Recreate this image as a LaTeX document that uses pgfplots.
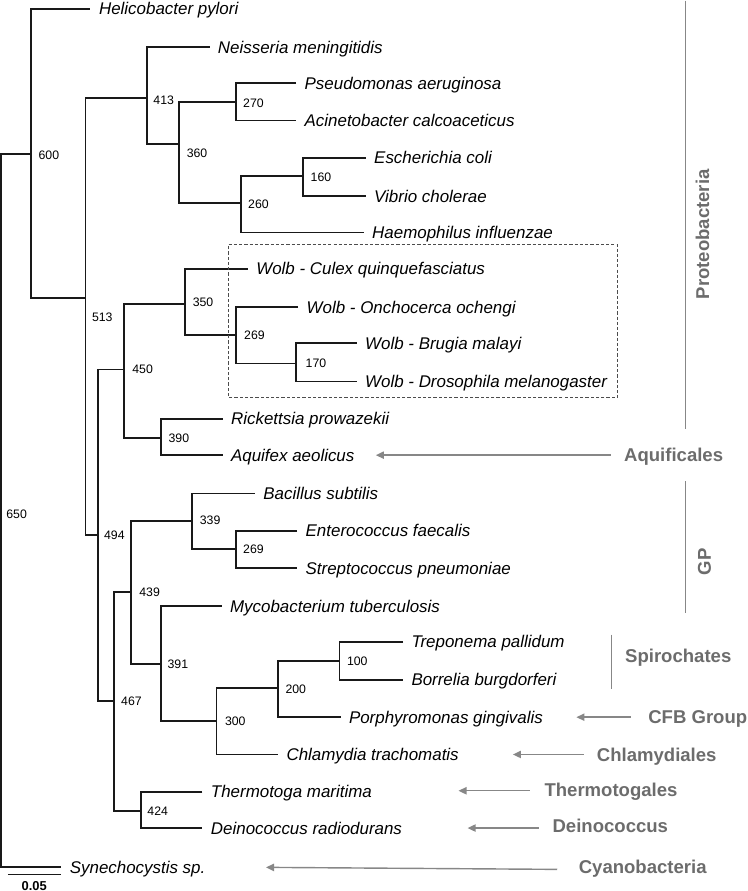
\documentclass[border=0pt]{standalone}
\usepackage{fontspec}
\setmainfont{Liberation Sans}
\usepackage{pgfplots}
\pgfplotsset{compat=1.18}
\usetikzlibrary{arrows.meta}

\definecolor{grp}{RGB}{108,108,108}
\definecolor{grpline}{RGB}{135,135,135}

\tikzset{
  br/.style={black!90, line width=0.9pt, line join=miter},
  sp/.style={anchor=west, inner sep=0pt, font=\fontsize{8.4}{10}\selectfont\itshape, text height=6pt, text depth=0pt},
  bs/.style={anchor=west, inner sep=0pt, font=\fontsize{6.1}{7}\selectfont, text height=4.3pt, text depth=0pt},
  grp/.style={anchor=west, inner sep=0pt, font=\fontsize{9.2}{11}\selectfont\bfseries, text=grp, text height=6.6pt, text depth=0pt},
  gl/.style={grpline, line width=0.6pt},
  arr/.style={grpline, line width=0.7pt, {Triangle[length=4pt,width=3.6pt]}-},
}

\begin{document}
\begin{tikzpicture}
\begin{axis}[
    width=372.5pt, height=445.5pt, scale only axis,
    xmin=0, xmax=745, ymin=0, ymax=891,
    y dir=reverse, hide axis, clip=false
]
% tree, one elbow per internal node: (top child) (node) (node) (bottom child)
\addplot[br] coordinates {(33,155) (3,155) (3,863) (63,863)};       % root 650
\addplot[br] coordinates {(91,11) (33,11) (33,298) (87,298)};       % 600
\addplot[br] coordinates {(148,100) (87,100) (87,533) (99,533)};    % 513
\addplot[br] coordinates {(210,49) (148,49) (148,145) (180,145)};   % 413
\addplot[br] coordinates {(236,104) (180,104) (180,204) (241,204)}; % 360
\addplot[br] coordinates {(296,85) (236,85) (236,122) (296,122)};   % 270
\addplot[br] coordinates {(303,177) (241,177) (241,233) (363,233)}; % 260
\addplot[br] coordinates {(365,159) (303,159) (303,197) (365,197)}; % 160
\addplot[br] coordinates {(125,369) (99,369) (99,698) (115,698)};   % 494
\addplot[br] coordinates {(186,304) (125,304) (125,437) (162,437)}; % 450
\addplot[br] coordinates {(248,269) (186,269) (186,335) (236,335)}; % 350
\addplot[br] coordinates {(298,307) (236,307) (236,363) (296,363)}; % 269
\addplot[br] coordinates {(356,343) (296,343) (296,381) (356,381)}; % 170
\addplot[br] coordinates {(223,418) (162,418) (162,454) (223,454)}; % 390
\addplot[br] coordinates {(132,590) (115,590) (115,807) (142,807)}; % 467
\addplot[br] coordinates {(193,519) (132,519) (132,661) (162,661)}; % 439
\addplot[br] coordinates {(255,492) (193,492) (193,547) (236,547)}; % 339
\addplot[br] coordinates {(297,529) (236,529) (236,566) (297,566)}; % 269
\addplot[br] coordinates {(222,604) (162,604) (162,718) (217,718)}; % 391
\addplot[br] coordinates {(278,685) (217,685) (217,751) (278,751)}; % 300
\addplot[br] coordinates {(339,658) (278,658) (278,714) (340,714)}; % 200
\addplot[br] coordinates {(402,639) (339,639) (339,677) (402,677)}; % 100
\addplot[br] coordinates {(203,788) (142,788) (142,824) (203,824)}; % 424
% scale bar
\addplot[br] coordinates {(10,870) (63,870)};
\node[anchor=north, inner sep=0pt, font=\fontsize{6.4}{7}\selectfont\bfseries] at (36,877) {0.05};

% Wolbachia box
\addplot[black!70, line width=0.55pt, dash pattern=on 1.6pt off 1pt]
  coordinates {(229,245) (615,245) (615,397) (229,397) (229,245)};

% species
\node[sp] at (100,11) {Helicobacter pylori};
\node[sp] at (218,49) {Neisseria meningitidis};
\node[sp] at (304,85) {Pseudomonas aeruginosa};
\node[sp] at (304,122) {Acinetobacter calcoaceticus};
\node[sp] at (373,159) {Escherichia coli};
\node[sp] at (373,197) {Vibrio cholerae};
\node[sp] at (371,233) {Haemophilus influenzae};
\node[sp] at (256,269) {Wolb - Culex quinquefasciatus};
\node[sp] at (306,307) {Wolb - Onchocerca ochengi};
\node[sp] at (364,343) {Wolb - Brugia malayi};
\node[sp] at (364,381) {Wolb - Drosophila melanogaster};
\node[sp] at (231,418) {Rickettsia prowazekii};
\node[sp] at (231,454) {Aquifex aeolicus};
\node[sp] at (263,492) {Bacillus subtilis};
\node[sp] at (305,529) {Enterococcus faecalis};
\node[sp] at (305,566) {Streptococcus pneumoniae};
\node[sp] at (230,604) {Mycobacterium tuberculosis};
\node[sp] at (410,639) {Treponema pallidum};
\node[sp] at (410,677) {Borrelia burgdorferi};
\node[sp] at (348,714) {Porphyromonas gingivalis};
\node[sp] at (286,751) {Chlamydia trachomatis};
\node[sp] at (211,788) {Thermotoga maritima};
\node[sp] at (211,824) {Deinococcus radiodurans};
\node[sp] at (71,863) {Synechocystis sp.};

% bootstrap values
\node[bs] at (40,156) {600};
\node[bs] at (154,102) {413};
\node[bs] at (243,105) {270};
\node[bs] at (187,154) {360};
\node[bs] at (310,178) {160};
\node[bs] at (248,205) {260};
\node[bs] at (193,302) {350};
\node[bs] at (244,335) {269};
\node[bs] at (305,363) {170};
\node[bs] at (93,317) {513};
\node[bs] at (133,369) {450};
\node[bs] at (169,437) {390};
\node[bs] at (105,533) {494};
\node[bs] at (200,519) {339};
\node[bs] at (243,547) {269};
\node[bs] at (140,590) {439};
\node[bs] at (168,661) {391};
\node[bs] at (346,658) {100};
\node[bs] at (285,686) {200};
\node[bs] at (225,718) {300};
\node[bs] at (122,698) {467};
\node[bs] at (148,807) {424};
\node[bs] at (8,513) {650};

% groups
\addplot[gl] coordinates {(682,3) (682,428)};
\addplot[gl] coordinates {(682,480) (682,611)};
\addplot[gl] coordinates {(609,632) (609,686)};
\node[rotate=90, inner sep=0pt, font=\fontsize{9.2}{11}\selectfont\bfseries, text=grp] at (699,235) {Proteobacteria};
\node[rotate=90, inner sep=0pt, font=\fontsize{9.2}{11}\selectfont\bfseries, text=grp] at (701,560) {GP};
\node[grp] at (622,653) {Spirochates};

\addplot[arr] coordinates {(375,454) (608,454)};
\node[grp] at (621,454) {Aquificales};
\addplot[arr] coordinates {(574,714) (628,714)};
\node[grp] at (645,714) {CFB Group};
\addplot[arr] coordinates {(511,751) (582,751)};
\node[grp] at (594,751) {Chlamydiales};
\addplot[arr] coordinates {(457,787) (528,787)};
\node[grp] at (542,786) {Thermotogales};
\addplot[arr] coordinates {(466,824) (537,824)};
\node[grp] at (550,822) {Deinococcus};
\addplot[arr] coordinates {(266,863) (555,865)};
\node[grp] at (576,862) {Cyanobacteria};
\end{axis}
\end{tikzpicture}
\end{document}
